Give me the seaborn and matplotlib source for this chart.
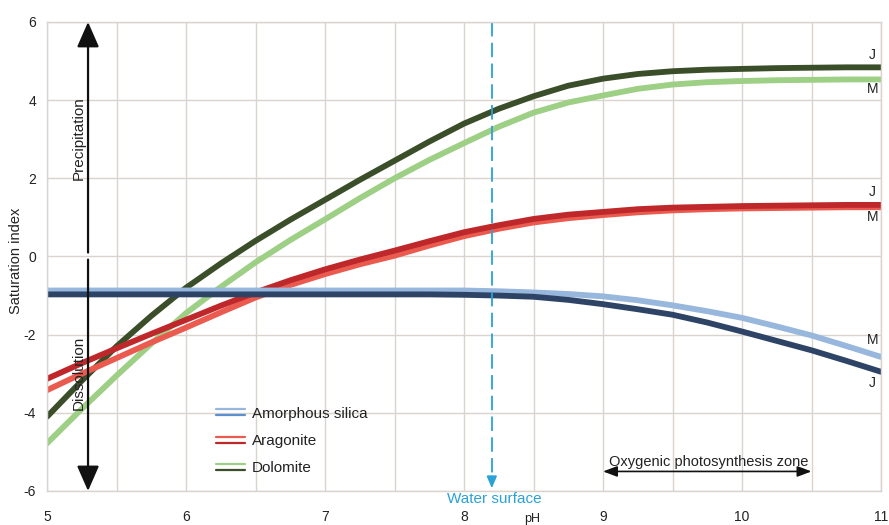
import matplotlib
matplotlib.use("Agg")
import numpy as np
import pandas as pd
import seaborn as sns
import matplotlib.pyplot as plt
from matplotlib.legend_handler import HandlerBase
from matplotlib.lines import Line2D

# ---------------- data ----------------
ph = [5, 5.25, 5.5, 5.75, 6, 6.25, 6.5, 6.75, 7, 7.25, 7.5, 7.75, 8,
      8.25, 8.5, 8.75, 9, 9.25, 9.5, 9.75, 10, 10.25, 10.5, 10.75, 11]

dolomite_J = [-4.10, -3.18, -2.30, -1.52, -0.80, -0.18, 0.40, 0.94, 1.45, 1.96, 2.45, 2.94, 3.40,
              3.78, 4.10, 4.37, 4.55, 4.67, 4.74, 4.78, 4.80, 4.82, 4.83, 4.84, 4.84]
dolomite_M = [-4.78, -3.90, -3.05, -2.23, -1.45, -0.78, -0.15, 0.42, 0.95, 1.49, 2.00, 2.47, 2.90,
              3.32, 3.68, 3.94, 4.12, 4.29, 4.40, 4.46, 4.49, 4.51, 4.52, 4.53, 4.53]
aragonite_J = [-3.13, -2.73, -2.35, -1.98, -1.62, -1.26, -0.92, -0.61, -0.33, -0.08, 0.15, 0.39, 0.62,
               0.80, 0.96, 1.07, 1.14, 1.21, 1.25, 1.27, 1.29, 1.30, 1.31, 1.32, 1.32]
aragonite_M = [-3.42, -3.00, -2.60, -2.20, -1.82, -1.43, -1.05, -0.73, -0.45, -0.20, 0.02, 0.28, 0.52,
               0.71, 0.87, 0.98, 1.06, 1.13, 1.18, 1.21, 1.23, 1.24, 1.25, 1.26, 1.26]
silica_J = [-0.97, -0.97, -0.97, -0.97, -0.97, -0.97, -0.97, -0.97, -0.97, -0.97, -0.97, -0.97, -0.98,
            -1.00, -1.03, -1.11, -1.22, -1.35, -1.49, -1.69, -1.92, -2.16, -2.40, -2.67, -2.95]
silica_M = [-0.87, -0.87, -0.87, -0.87, -0.87, -0.87, -0.87, -0.87, -0.87, -0.87, -0.87, -0.87, -0.87,
            -0.89, -0.92, -0.96, -1.02, -1.12, -1.25, -1.40, -1.57, -1.79, -2.02, -2.29, -2.57]

minerals = ["Amorphous silica", "Aragonite", "Dolomite"]
x_ticks = [5, 6, 7, 8, 9, 10, 11]
y_ticks = [-6, -4, -2, 0, 2, 4, 6]

water_surface_ph = 8.2
photo_zone = [9, 10.5]

# ---------------- style ----------------
sns.set_theme(style="white")
plt.rcParams["font.family"] = ["Liberation Sans", "DejaVu Sans"]
plt.rcParams["axes.unicode_minus"] = False

colors = {
    "Dolomite M": "#9dcf85",
    "Dolomite J": "#3b4e2a",
    "Aragonite M": "#eb5a4f",
    "Aragonite J": "#bf282b",
    "Amorphous silica M": "#98b7dc",
    "Amorphous silica J": "#2d4466",
}
order = ["Dolomite M", "Dolomite J", "Aragonite M", "Aragonite J",
         "Amorphous silica M", "Amorphous silica J"]
series = {
    "Dolomite M": dolomite_M, "Dolomite J": dolomite_J,
    "Aragonite M": aragonite_M, "Aragonite J": aragonite_J,
    "Amorphous silica M": silica_M, "Amorphous silica J": silica_J,
}
rows = []
for name in order:
    for p, v in zip(ph, series[name]):
        rows.append({"pH": p, "SI": v, "series": name})
df = pd.DataFrame(rows)

fig = plt.figure(figsize=(8.89, 5.25), dpi=100)
ax = fig.add_axes([0.0529, 0.0648, 0.9381, 0.8933])

grid_c = "#d9d4cd"
sns.lineplot(data=df, x="pH", y="SI", hue="series", hue_order=order,
             palette=colors, lw=4.2, legend=False, ax=ax, estimator=None,
             sort=True)
for ln in ax.get_lines():
    ln.set_solid_capstyle("round")
    ln.set_solid_joinstyle("round")

ax.set_xlim(5, 11)
ax.set_ylim(-6, 6)
ax.set_xticks(x_ticks)
ax.set_xticks(np.arange(5, 11.01, 0.5), minor=True)
ax.set_yticks(y_ticks)
ax.grid(which="both", axis="x", color=grid_c, lw=1.0)
ax.grid(which="major", axis="y", color=grid_c, lw=1.0)
ax.set_axisbelow(True)
for s in ax.spines.values():
    s.set_color(grid_c)
    s.set_linewidth(1.0)
ax.tick_params(axis="x", which="both", length=0, pad=14, labelsize=10, labelcolor="#222222")
ax.tick_params(axis="y", which="both", length=0, pad=8, labelsize=10, labelcolor="#222222")

ax.set_xlabel("pH", fontsize=9, color="#222222")
ax.xaxis.set_label_coords(0.5815, -0.046)
ax.set_ylabel("Saturation index", fontsize=10.5, color="#222222")
ax.yaxis.set_label_coords(-0.029, 0.49)

# ---------------- J / M labels ----------------
ends = [
    ("J", dolomite_J[-1], 9), ("M", dolomite_M[-1], -7),
    ("J", aragonite_J[-1], 9), ("M", aragonite_M[-1], -7),
    ("M", silica_M[-1], 12), ("J", silica_J[-1], -8),
]
for lab, yv, dy in ends:
    ax.annotate(lab, xy=(11, yv), xytext=(-6, dy), textcoords="offset points",
                ha="center", va="center", fontsize=10, color="#222222",
                annotation_clip=False)

# ---------------- precipitation / dissolution arrows ----------------
akw = dict(arrowstyle="-|>,head_length=1.55,head_width=0.68", color="#111111",
           lw=1.6, mutation_scale=10, shrinkA=0, shrinkB=0)
ax.annotate("", xy=(5.295, 6), xytext=(5.295, 0.1), arrowprops=akw, annotation_clip=False)
ax.annotate("", xy=(5.295, -6), xytext=(5.295, -0.08), arrowprops=akw, annotation_clip=False)
ax.text(5.225, 3.02, "Precipitation", rotation=90, ha="center", va="center",
        fontsize=11, color="#222222")
ax.text(5.225, -2.97, "Dissolution", rotation=90, ha="center", va="center",
        fontsize=11, color="#222222")

# ---------------- water surface ----------------
ws_c = "#2aa2d8"
ax.plot([water_surface_ph, water_surface_ph], [6, -5.75], color=ws_c, lw=1.3,
        linestyle=(0, (8, 3.5)))
ax.annotate("", xy=(water_surface_ph, -5.93), xytext=(water_surface_ph, -5.7),
            arrowprops=dict(arrowstyle="-|>,head_length=0.7,head_width=0.3",
                            color=ws_c, lw=1.3, mutation_scale=10, shrinkA=0, shrinkB=0),
            annotation_clip=False)
ax.text(water_surface_ph + 0.02, -6.2, "Water surface", ha="center", va="center",
        fontsize=11, color=ws_c, clip_on=False)

# ---------------- photosynthesis zone ----------------
ax.annotate("", xy=(photo_zone[0], -5.5), xytext=(photo_zone[1], -5.5),
            arrowprops=dict(arrowstyle="<|-|>,head_length=0.85,head_width=0.32",
                            color="#111111", lw=1.2, mutation_scale=10,
                            shrinkA=0, shrinkB=0))
ax.text(sum(photo_zone) / 2 + 0.01, -5.26, "Oxygenic photosynthesis zone",
        ha="center", va="center", fontsize=10.5, color="#222222")

# ---------------- legend with double lines ----------------
class Pair:
    def __init__(self, c_top, c_bot):
        self.c_top = c_top
        self.c_bot = c_bot


class DoubleLineHandler(HandlerBase):
    def create_artists(self, legend, orig_handle, xdescent, ydescent,
                       width, height, fontsize, trans):
        y0 = height / 2 - ydescent
        l1 = Line2D([-xdescent, width - xdescent], [y0 + 2.1, y0 + 2.1],
                    color=orig_handle.c_top, lw=1.6, transform=trans)
        l2 = Line2D([-xdescent, width - xdescent], [y0 - 2.1, y0 - 2.1],
                    color=orig_handle.c_bot, lw=1.6, transform=trans)
        return [l1, l2]


handles = [Pair(colors["Amorphous silica M"], "#5b8fcf"),
           Pair(colors["Aragonite M"], colors["Aragonite J"]),
           Pair(colors["Dolomite M"], colors["Dolomite J"])]
leg = ax.legend(handles, minerals, handler_map={Pair: DoubleLineHandler()},
                loc="upper left", bbox_to_anchor=(0.203, 0.18), frameon=False,
                fontsize=11, handlelength=1.85, handletextpad=0.5,
                labelspacing=0.88, borderpad=0, borderaxespad=0)
for t in leg.get_texts():
    t.set_color("#222222")

fig.savefig("out.png", dpi=100)
